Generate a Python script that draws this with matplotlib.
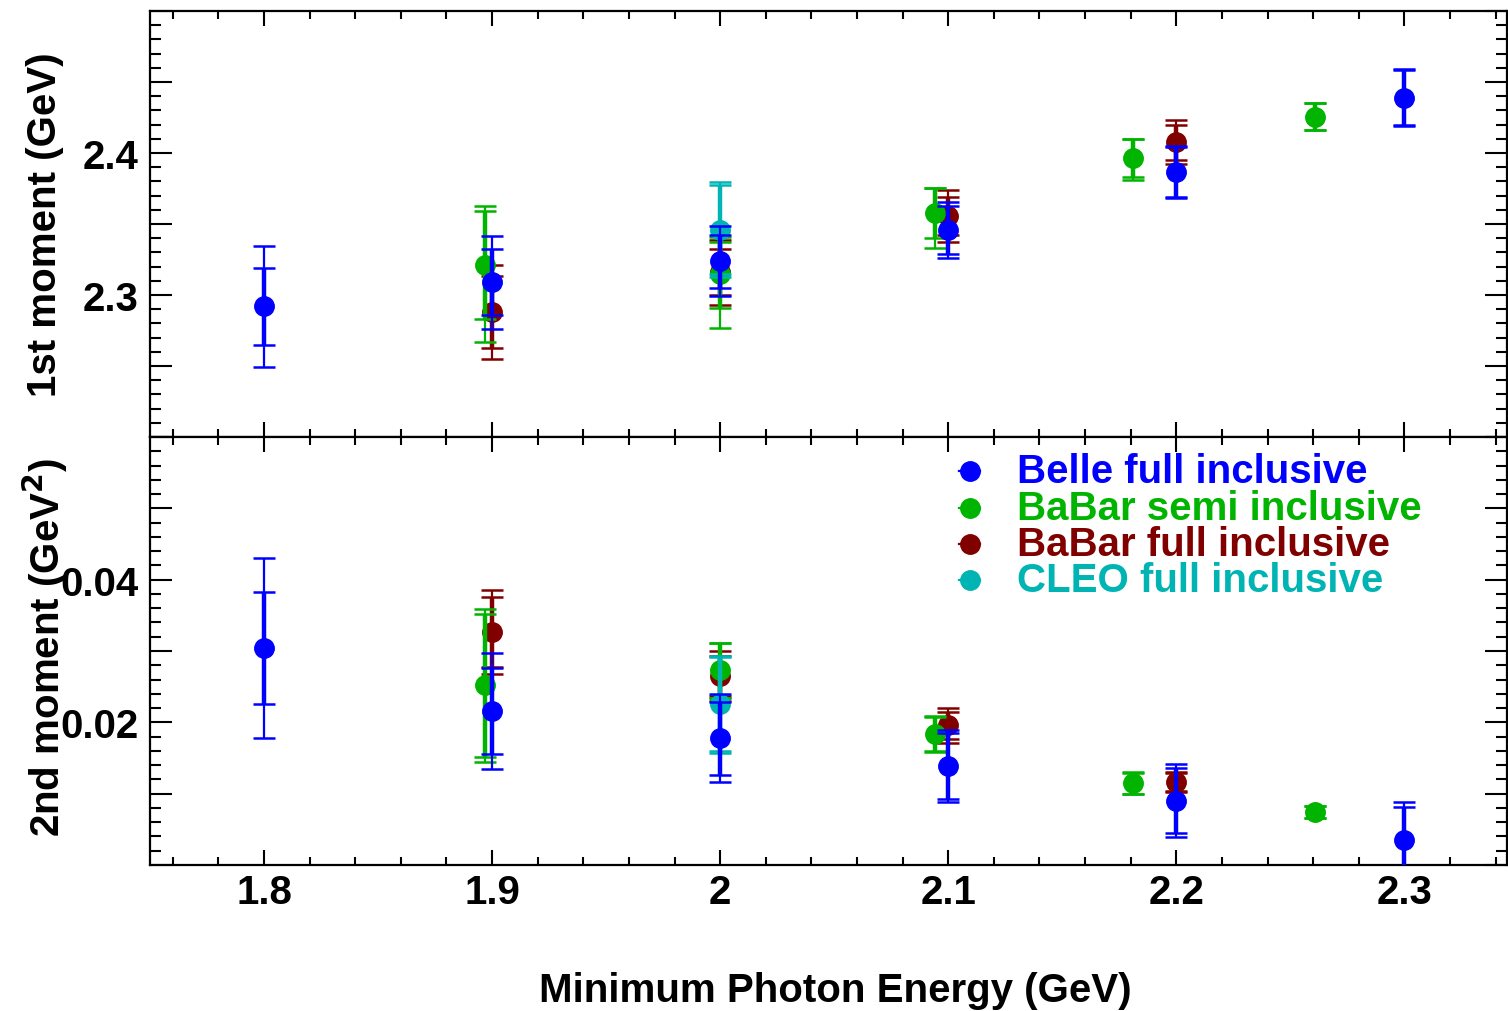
import matplotlib
matplotlib.use("Agg")
import matplotlib.pyplot as plt
from matplotlib.ticker import MultipleLocator, FuncFormatter

plt.rcParams['font.family'] = ['Liberation Sans', 'DejaVu Sans']
plt.rcParams['font.weight'] = 'bold'

# ---------------- data ----------------
# Belle full inclusive
belle_x = [1.8, 1.9, 2.0, 2.1, 2.2, 2.3]
belle_m1 = [2.292, 2.309, 2.3237, 2.346, 2.3864, 2.439]
belle_m1_in = [0.0271, 0.0231, 0.0188, 0.017, 0.0175, 0.0195]
belle_m1_out = [0.0426, 0.0326, 0.0246, 0.0196, 0.0183, 0.0202]
belle_m2 = [0.0304, 0.02158, 0.01776, 0.01389, 0.0090, 0.0035]
belle_m2_in = [0.00786, 0.0060, 0.00508, 0.00464, 0.00457, 0.00457]
belle_m2_out = [0.01263, 0.0081, 0.00615, 0.00506, 0.00513, 0.00536]

# BaBar semi inclusive
bsemi_x = [1.897, 2.0, 2.094, 2.181, 2.261]
bsemi_m1 = [2.321, 2.3148, 2.3575, 2.3963, 2.4256]
bsemi_m1_in_lo = [0.038, 0.024, 0.0176, 0.0133, 0.0094]
bsemi_m1_in_hi = [0.0382, 0.0223, 0.0176, 0.0133, 0.0094]
bsemi_m1_out_lo = [0.0544, 0.038, 0.0246, 0.0153, 0.0094]
bsemi_m1_out_hi = [0.0418, 0.026, 0.018, 0.0136, 0.0094]
bsemi_m2 = [0.02517, 0.02727, 0.01832, 0.01147, 0.00745]
bsemi_m2_in = [0.00998, 0.00385, 0.0024, 0.00147, 0.0008]
bsemi_m2_out = [0.0107, 0.0039, 0.0025, 0.0015, 0.00085]

# BaBar full inclusive
bfull_x = [1.9, 2.0, 2.1, 2.2]
bfull_m1 = [2.288, 2.316, 2.3558, 2.4075]
bfull_m1_in = [0.0252, 0.0162, 0.0134, 0.0123]
bfull_m1_out = [0.0329, 0.0228, 0.0184, 0.0155]
bfull_m2 = [0.03268, 0.02648, 0.01958, 0.01165]
bfull_m2_in = [0.0049, 0.0028, 0.0019, 0.00125]
bfull_m2_out = [0.0059, 0.00345, 0.00245, 0.00144]

# CLEO full inclusive
cleo_x = [2.0]
cleo_m1 = [2.346]
cleo_m1_in = [0.0315]
cleo_m1_out = [0.0335]
cleo_m2 = [0.02252]
cleo_m2_in = [0.0066]
cleo_m2_out = [0.0068]

labels = ['Belle full inclusive', 'BaBar semi inclusive',
          'BaBar full inclusive', 'CLEO full inclusive']
colors = ['#0000ff', '#00b400', '#800000', '#00b4b4']

# ---------------- figure ----------------
W, H = 1508, 1012
fig = plt.figure(figsize=(W / 100, H / 100), dpi=100)
left = 150 / W
width = (1507 - 150) / W
ax1 = fig.add_axes([left, (H - 438) / H, width, 426 / H])
ax2 = fig.add_axes([left, (H - 866) / H, width, 428 / H], sharex=ax1)


def draw(ax, x, y, in_lo, in_hi, out_lo, out_hi, c, z):
    ax.errorbar(x, y, yerr=[out_lo, out_hi], fmt='none', ecolor=c,
                elinewidth=1.6, capsize=8, capthick=1.8, zorder=z)
    ax.errorbar(x, y, yerr=[in_lo, in_hi], fmt='o', color=c, ms=14,
                mfc=c, mec=c, elinewidth=3.2, capsize=8, capthick=1.8,
                zorder=z + 0.5)


# draw order: dark red, green, cyan, blue
draw(ax1, bfull_x, bfull_m1, bfull_m1_in, bfull_m1_in, bfull_m1_out, bfull_m1_out, colors[2], 3)
draw(ax1, bsemi_x, bsemi_m1, bsemi_m1_in_lo, bsemi_m1_in_hi, bsemi_m1_out_lo, bsemi_m1_out_hi, colors[1], 4)
draw(ax1, cleo_x, cleo_m1, cleo_m1_in, cleo_m1_in, cleo_m1_out, cleo_m1_out, colors[3], 5)
draw(ax1, belle_x, belle_m1, belle_m1_in, belle_m1_in, belle_m1_out, belle_m1_out, colors[0], 6)

draw(ax2, bfull_x, bfull_m2, bfull_m2_in, bfull_m2_in, bfull_m2_out, bfull_m2_out, colors[2], 3)
draw(ax2, bsemi_x, bsemi_m2, bsemi_m2_in, bsemi_m2_in, bsemi_m2_out, bsemi_m2_out, colors[1], 4)
draw(ax2, cleo_x, cleo_m2, cleo_m2_in, cleo_m2_in, cleo_m2_out, cleo_m2_out, colors[3], 5)
draw(ax2, belle_x, belle_m2, belle_m2_in, belle_m2_in, belle_m2_out, belle_m2_out, colors[0], 6)

ax1.set_xlim(1.75, 2.345)
ax1.set_ylim(2.2, 2.5)
ax2.set_ylim(0.0, 0.06)

for ax in (ax1, ax2):
    for s in ax.spines.values():
        s.set_linewidth(1.6)
    ax.xaxis.set_major_locator(MultipleLocator(0.1))
    ax.xaxis.set_minor_locator(MultipleLocator(0.02))
    ax.tick_params(axis='both', which='both', direction='in', top=True,
                   right=True, width=1.5, labelsize=29)
    ax.tick_params(axis='x', which='major', length=11, pad=6)
    ax.tick_params(axis='x', which='minor', length=6)
    ax.tick_params(axis='y', which='major', length=16, pad=8)
    ax.tick_params(axis='y', which='minor', length=8)

ax1.yaxis.set_major_locator(MultipleLocator(0.05))
ax1.yaxis.set_minor_locator(MultipleLocator(0.01))
ax1.yaxis.set_major_formatter(FuncFormatter(
    lambda v, p: ('%.1f' % v) if (abs(v - 2.3) < 1e-6 or abs(v - 2.4) < 1e-6) else ''))
ax2.yaxis.set_major_locator(MultipleLocator(0.01))
ax2.yaxis.set_minor_locator(MultipleLocator(0.002))
ax2.yaxis.set_major_formatter(FuncFormatter(
    lambda v, p: ('%.2f' % v) if (abs(v - 0.02) < 1e-7 or abs(v - 0.04) < 1e-7) else ''))

ax1.tick_params(axis='x', labelbottom=False)
ax2.xaxis.set_major_formatter(FuncFormatter(
    lambda v, p: ('%g' % round(v, 1))))

for lab in ax1.get_yticklabels() + ax2.get_yticklabels() + ax2.get_xticklabels():
    lab.set_fontweight('bold')

# legend (manual, ROOT style)
rows_y = [0.9206, 0.834, 0.750, 0.666]
for lab, c, yy in zip(labels, colors, rows_y):
    ax2.plot([0.596, 0.612], [yy, yy], color=c, lw=1.6,
             transform=ax2.transAxes, clip_on=False, zorder=10)
    ax2.plot([0.604], [yy], 'o', color=c, ms=14,
             transform=ax2.transAxes, clip_on=False, zorder=10)
    ax2.text(0.639, yy, lab, color=c, fontsize=29, fontweight='bold',
             ha='left', va='center', transform=ax2.transAxes, zorder=10)

# axis titles
fig.text(835 / W, 1 - 991 / H, 'Minimum Photon Energy (GeV)', fontsize=29,
         fontweight='bold', ha='center', va='center')
fig.text(45 / W, 1 - 225 / H, '1st moment (GeV)', fontsize=29,
         fontweight='bold', ha='center', va='center', rotation=90)
fig.text(45 / W, 1 - 648 / H, '2nd moment (GeV$^{\\mathbf{2}}$)', fontsize=29,
         fontweight='bold', ha='center', va='center', rotation=90)

fig.savefig('out.png', dpi=100)
